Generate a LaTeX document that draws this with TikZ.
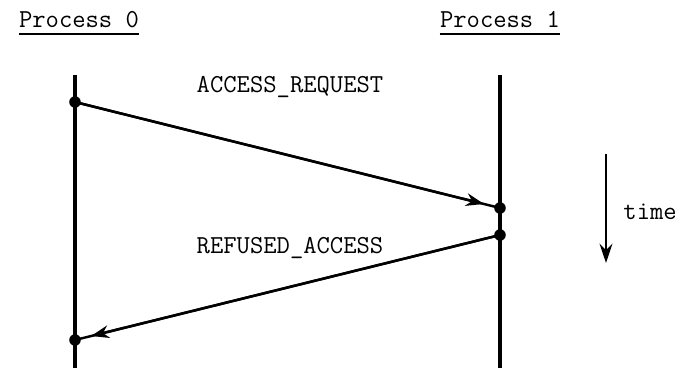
\documentclass[tikz,border=0pt]{standalone}
\usetikzlibrary{arrows.meta}

\tikzset{
    proc/.style={font=\fontsize{11.5}{14}\ttfamily, inner sep=0pt},
    msg/.style={font=\fontsize{11.5}{14}\ttfamily, inner sep=0pt},
    event/.style={circle, fill=black, minimum size=0.18cm, inner sep=0pt},
    lifeline/.style={line width=1.5pt},
    msgline/.style={line width=1.1pt},
    tip/.style={line width=1.1pt, -{Stealth[length=0.28cm, width=0.2cm]}, shorten >=0.26cm}
}

\begin{document}
\begin{tikzpicture}[x=0.015625cm, y=-0.015625cm]
    \useasboundingbox (0,0) rectangle (681,368);

    % Nodes
    \node[proc, anchor=base] (P0) at (79,27) {Process 0};
    \node[proc, anchor=base] (P1) at (500,27) {Process 1};
    \draw[line width=0.9pt] ([yshift=-3.2pt]P0.base west) -- ([yshift=-3.2pt]P0.base east);
    \draw[line width=0.9pt] ([yshift=-3.2pt]P1.base west) -- ([yshift=-3.2pt]P1.base east);

    \coordinate (P0top) at (75,75);
    \coordinate (P0bot) at (75,368);
    \coordinate (P1top) at (500,75);
    \coordinate (P1bot) at (500,368);

    \node[event] (send) at (75,102) {};
    \node[event] (recv) at (500,208) {};
    \node[event] (reply) at (500,235) {};
    \node[event] (back) at (75,340) {};

    \node[msg, anchor=base] (req) at (290,92) {ACCESS\_REQUEST};
    \node[msg, anchor=base] (ref) at (290,253) {REFUSED\_ACCESS};

    \coordinate (Ttop) at (606,154);
    \coordinate (Tbot) at (606,263);
    \node[msg, anchor=west] (time) at (623,212) {time};

    % Lifelines
    \draw[lifeline] (P0top) -- (P0bot);
    \draw[lifeline] (P1top) -- (P1bot);

    % Messages
    \draw[msgline] (send.center) -- (recv.center);
    \draw[tip] (send.center) -- (recv.center);

    \draw[msgline] (reply.center) -- (back.center);
    \draw[tip] (reply.center) -- (back.center);

    % Time axis
    \draw[line width=1.3pt, -{Stealth[length=0.3cm, width=0.2cm]}] (Ttop) -- (Tbot);
\end{tikzpicture}
\end{document}
